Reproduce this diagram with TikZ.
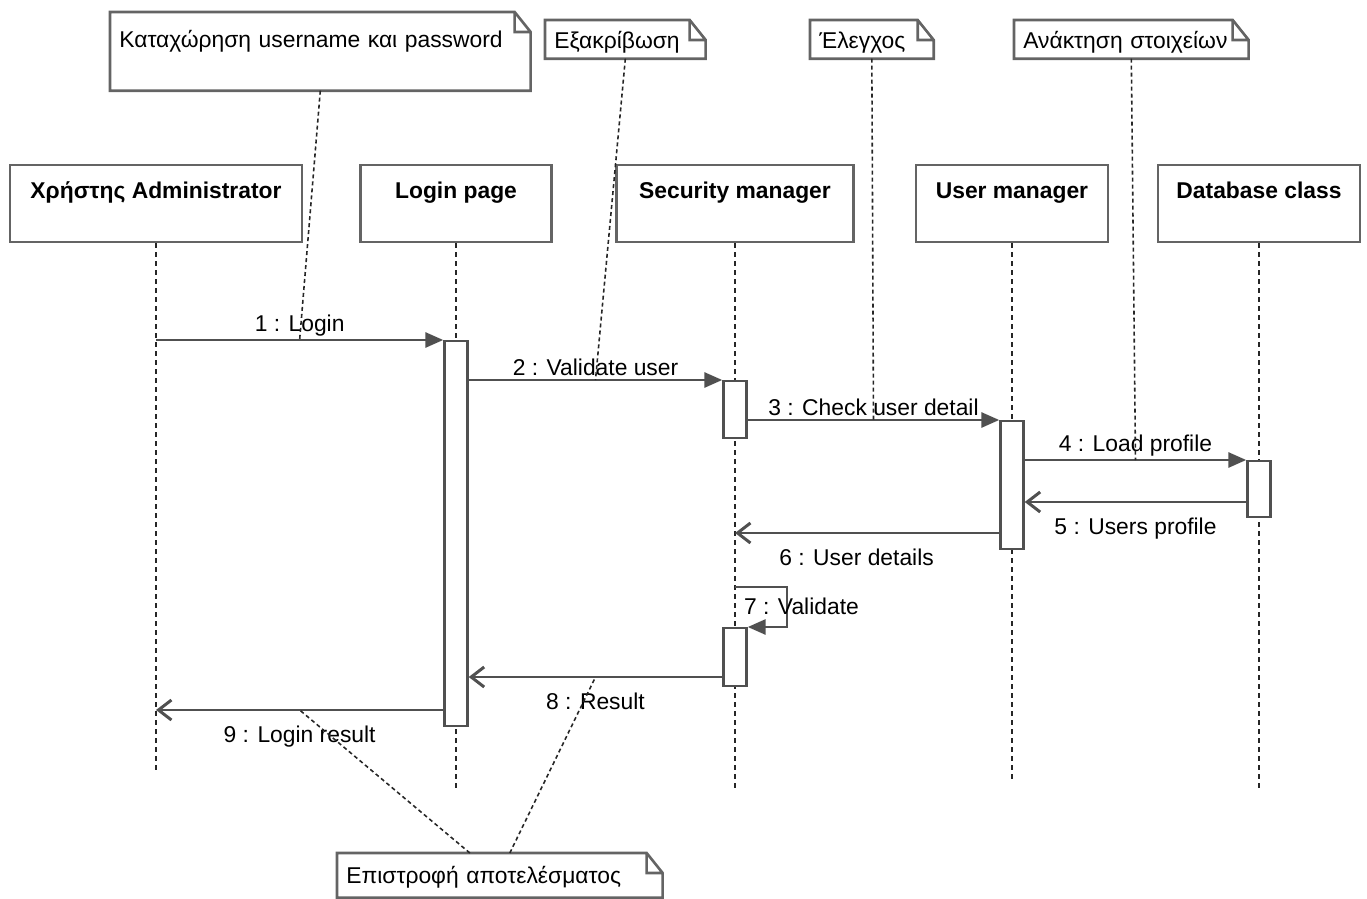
\documentclass[tikz,border=0pt]{standalone}
\usepackage{fontspec}
\setmainfont{Liberation Sans}
\usetikzlibrary{arrows.meta,calc,positioning}

\definecolor{umlline}{RGB}{80,80,80}
\definecolor{umlbox}{RGB}{100,100,100}

\begin{document}
\begin{tikzpicture}[
	x=0.02cm, y=-0.02cm,
	font=\fontsize{13}{15}\selectfont,
	object/.style={draw=umlbox, line width=1.6pt, fill=white, font=\fontsize{13}{15}\selectfont\bfseries,
		inner sep=0pt, text height=0.67cm, text depth=0.87cm},
	lifeline/.style={draw=black!85, line width=1.2pt, dash pattern=on 0.1cm off 0.08cm},
	activation/.style={draw=umlline, line width=1.4pt, fill=white, minimum width=0.46cm, inner sep=0pt, anchor=north},
	call/.style={draw=umlline, line width=1.7pt, -{Triangle[length=0.36cm,width=0.3cm]}},
	reply/.style={draw=umlline, line width=1.7pt, -{Straight Barb[length=0.26cm,width=0.4cm]}},
	note/.style={anchor=north west, inner xsep=0.18cm, inner ysep=0pt, align=left, text height=0.56cm, text depth=0.2cm},
	notebox/.style={draw=umlbox, line width=1.5pt},
	notelink/.style={draw=black!85, line width=0.9pt, dash pattern=on 0.08cm off 0.06cm},
	over/.style={above, inner sep=1.5pt},
	under/.style={below, inner sep=8.5pt}
	]
	\useasboundingbox (0,0) rectangle (1367,899);

	% notes
	\node[note, text width=8.04cm, text height=0.7cm, text depth=0.86cm] (nUser) at (110,12) {Καταχώρηση username και password};
	\node[note, text width=2.84cm] (nValid) at (545,20) {Εξακρίβωση};
	\node[note, text width=2.1cm] (nCheck) at (810,20) {Έλεγχος};
	\node[note, text width=4.32cm] (nLoad) at (1014,20) {Ανάκτηση στοιχείων};
	\node[note, text width=6.14cm, text height=0.6cm, text depth=0.28cm] (nResult) at (337,853) {Επιστροφή αποτελέσματος};
	\foreach \n in {nUser,nValid,nCheck,nLoad,nResult}
		\draw[notebox] (\n.north west) -- ([xshift=-0.32cm]\n.north east) -- ([yshift=-0.4cm]\n.north east)
			-- (\n.south east) -- (\n.south west) -- cycle
			([xshift=-0.32cm]\n.north east) |- ([yshift=-0.4cm]\n.north east);

	% objects
	\node[object, minimum width=5.84cm] (admin) at (156,203.5) {Χρήστης Administrator};
	\node[object, minimum width=3.82cm] (login) at (456,203.5) {Login page};
	\node[object, minimum width=4.74cm] (secmgr) at (735,203.5) {Security manager};
	\node[object, minimum width=3.84cm] (usermgr) at (1012,203.5) {User manager};
	\node[object, minimum width=4.04cm] (dbclass) at (1259,203.5) {Database class};

	% lifelines
	\draw[lifeline] (admin.south) -- ++(0,528);
	\draw[lifeline] (login.south) -- ++(0,548);
	\draw[lifeline] (secmgr.south) -- ++(0,548);
	\draw[lifeline] (usermgr.south) -- ++(0,538);
	\draw[lifeline] (dbclass.south) -- ++(0,548);

	% activations
	\node[activation, minimum height=7.7cm] (actLogin) at (login.south |- 0,340) {};
	\node[activation, minimum height=1.14cm] (actSec1) at (secmgr.south |- 0,380) {};
	\node[activation, minimum height=2.56cm] (actUser) at (usermgr.south |- 0,420) {};
	\node[activation, minimum height=1.12cm] (actDb) at (dbclass.south |- 0,460) {};
	\node[activation, minimum height=1.16cm] (actSec2) at (secmgr.south |- 0,627) {};

	% messages
	\draw[call] (admin.south |- actLogin.north) -- node[over] (m1) {1 : Login} (actLogin.north west);
	\draw[call] (actLogin.east |- actSec1.north) -- node[over] (m2) {2 : Validate user} (actSec1.north west);
	\draw[call] (actSec1.east |- actUser.north) -- node[over] (m3) {3 : Check user detail} (actUser.north west);
	\draw[call] (actUser.east |- actDb.north) -- node[over] (m4) {4 : Load profile} (actDb.north west);
	\draw[reply] (actDb.west |- 0,502) -- node[under] (m5) {5 : Users profile} (actUser.east |- 0,502);
	\draw[reply] (actUser.west |- 0,533) -- node[under, pos=0.54] (m6) {6 : User details} (secmgr.south |- 0,533);
	\draw[call] (secmgr.south |- 0,587) -- ++(52,0) |- (actSec2.north east);
	\node[anchor=west, inner sep=1pt] (m7) at (742,606) {7 : Validate};
	\draw[reply] (actSec2.west |- 0,677) -- node[under] (m8) {8 : Result} (actLogin.east |- 0,677);
	\draw[reply] (actLogin.west |- 0,710) -- node[under] (m9) {9 : Login result} (admin.south |- 0,710);

	% note links
	\draw[notelink] (nUser.south) -- (m1.south);
	\draw[notelink] (nValid.south) -- (m2.south);
	\draw[notelink] (nCheck.south) -- (m3.south);
	\draw[notelink] (nLoad.south) -- (m4.south);
	\draw[notelink] ([xshift=-0.6cm]nResult.north) -- (m9.north);
	\draw[notelink] ([xshift=0.2cm]nResult.north) -- (m8.north);
\end{tikzpicture}
\end{document}
